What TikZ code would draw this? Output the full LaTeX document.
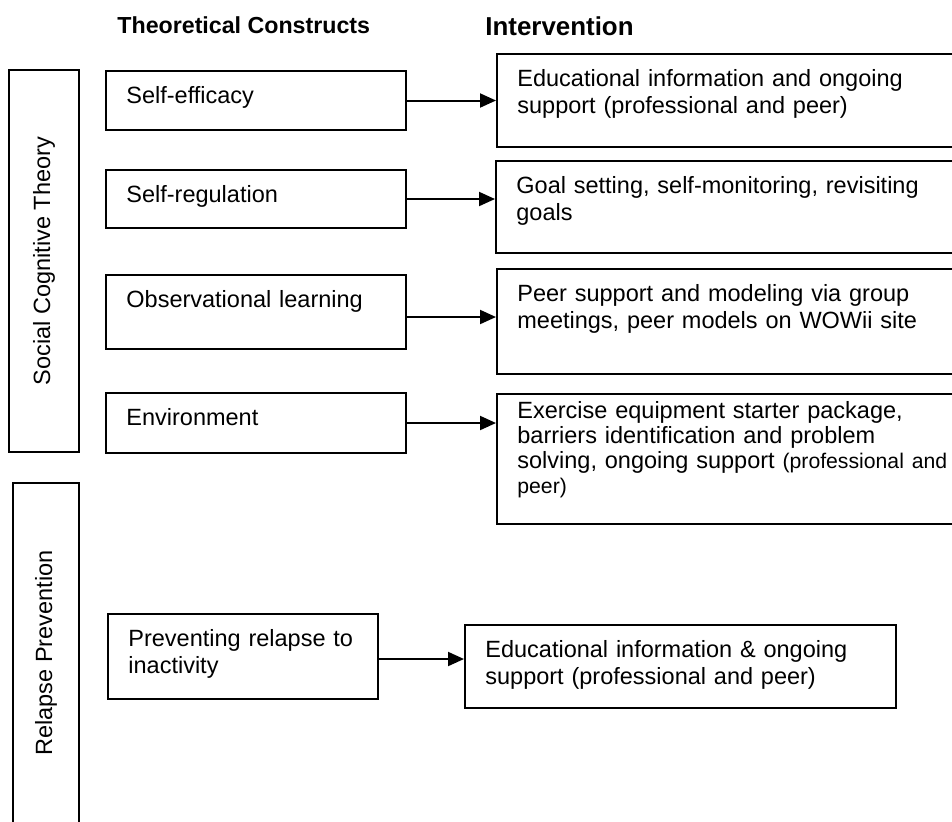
\documentclass[tikz,border=0pt]{standalone}
\usepackage{fontspec}
\setmainfont{Liberation Sans}
\usetikzlibrary{arrows.meta}
\tikzset{
  cbox/.style={draw=black,line width=1pt,anchor=north west,inner sep=0pt,minimum width=150pt},
  ibox/.style={draw=black,line width=1pt,anchor=north west,inner sep=0pt,minimum width=260pt},
  sidebox/.style={draw=black,line width=1pt,rotate=90,inner sep=0pt,font=\fontsize{11.75pt}{13.5pt}\selectfont},
  boxtext/.style={anchor=base west,xshift=10.5pt,yshift=#1,inner sep=0pt,align=left,text width=235pt,font=\fontsize{11.75pt}{13.5pt}\selectfont},
  boxtext/.default=-16.5pt,
  head/.style={anchor=base west,inner sep=0pt,font=\bfseries\fontsize{11.6pt}{14pt}\selectfont},
  carrow/.style={-{Triangle[length=8pt,width=7pt]},line width=1pt}
}
\begin{document}
\begin{tikzpicture}[x=0.5pt,y=-0.5pt]
  \useasboundingbox (0,0) rectangle (952,821);
  \clip (0,0) rectangle (952,821);
  % column headings
  \node[head] (hcon) at (117,33) {Theoretical Constructs};
  \node[head,font=\bfseries\fontsize{12.95pt}{15pt}\selectfont] (hint) at (485,35) {Intervention};
  % theory bars
  \node[sidebox,minimum width=191pt,minimum height=35pt] (sct) at (44,261) {Social Cognitive Theory};
  \node[sidebox,minimum width=170pt,minimum height=33pt] (rp) at (46,653) {Relapse Prevention};
  % constructs
  \node[cbox,minimum height=29.5pt,label={[boxtext]north west:{Self-efficacy}}] (seff) at (105,70) {};
  \node[cbox,minimum height=29pt,label={[boxtext]north west:{Self-regulation}}] (sreg) at (105,169) {};
  \node[cbox,minimum height=37pt,label={[boxtext]north west:{Observational learning}}] (obs) at (105,274) {};
  \node[cbox,minimum height=30pt,label={[boxtext]north west:{Environment}}] (env) at (105,392) {};
  \node[cbox,minimum width=135pt,minimum height=42.5pt,label={[boxtext]north west:{Preventing relapse to\\inactivity}}] (prev) at (107,613) {};
  % interventions
  \node[ibox,minimum height=46.5pt,label={[boxtext]north west:{Educational information and ongoing\\support (professional and peer)}}] (edu) at (496,53) {};
  \node[ibox,minimum height=46pt,label={[boxtext]north west:{Goal setting, self-monitoring, revisiting\\goals}}] (goal) at (495,160) {};
  \node[ibox,minimum height=52.5pt,label={[boxtext]north west:{Peer support and modeling via group\\meetings, peer models on WOWii site}}] (peer) at (496,268) {};
  \node[ibox,minimum height=65pt,label={[boxtext=-12.5pt,font=\fontsize{11.75pt}{12.5pt}\selectfont]north west:{Exercise equipment starter package,\\barriers identification and problem\\solving, ongoing support{\fontsize{10.6pt}{12.5pt}\selectfont{} (professional and\\peer)}}}] (equip) at (496,393) {};
  \node[ibox,minimum width=215.5pt,minimum height=41.5pt,label={[boxtext]north west:{Educational information \& ongoing\\support (professional and peer)}}] (edu2) at (464,624) {};
  % links
  \draw[carrow] (seff.east) -- (seff.east -| edu.west);
  \draw[carrow] (sreg.east) -- (sreg.east -| goal.west);
  \draw[carrow] ([yshift=-2.5pt]obs.east) -- ([yshift=-2.5pt]obs.east -| peer.west);
  \draw[carrow] (env.east) -- (env.east -| equip.west);
  \draw[carrow] ([yshift=-1.25pt]prev.east) -- ([yshift=-1.25pt]prev.east -| edu2.west);
\end{tikzpicture}
\end{document}
